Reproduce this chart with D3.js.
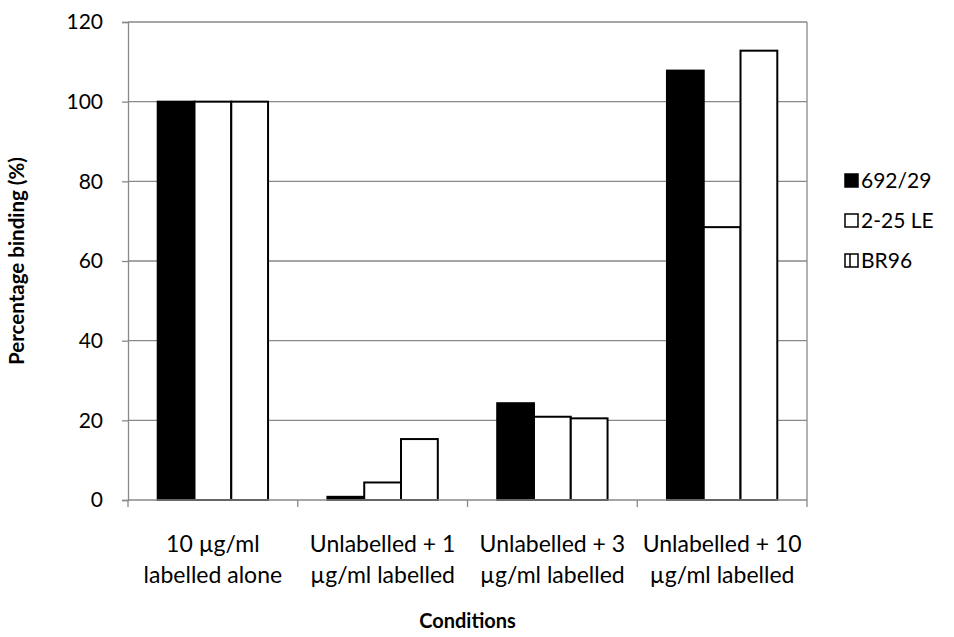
<!DOCTYPE html>
<html>
<head>
<meta charset="utf-8">
<script src="https://cdn.jsdelivr.net/npm/d3@7"></script>
<style>
  body { margin: 0; background: #fff; }
  text { font-family: Lato, "Open Sans", sans-serif; fill: #000; }
</style>
</head>
<body>
<svg width="954" height="637"></svg>
<script>
// chart data
const categories = [
  ["10 µg/ml", "labelled alone"],
  ["Unlabelled + 1", "µg/ml labelled"],
  ["Unlabelled + 3", "µg/ml labelled"],
  ["Unlabelled + 10", "µg/ml labelled"]
];
const seriesNames = ["692/29", "2-25 LE", "BR96"];
const values692 = [100, 0.8, 24.3, 107.8];
const values225 = [100, 4.4, 20.9, 68.5];
const valuesBR96 = [100, 15.3, 20.5, 112.8];
const yTicks = [0, 20, 40, 60, 80, 100, 120];

const svg = d3.select("svg");
const margin = { top: 22, left: 128, right: 147, bottom: 137 };
const width = +svg.attr("width");
const height = +svg.attr("height");
const innerWidth = width - margin.left - margin.right;
const innerHeight = height - margin.top - margin.bottom;

const g = svg.append("g")
  .attr("transform", `translate(${margin.left},${margin.top})`);

// scales: one band per condition, then one sub-band per series
const x0 = d3.scaleBand()
  .domain(d3.range(categories.length))
  .range([0, innerWidth])
  .paddingInner(0.35)
  .paddingOuter(0.175);

const x1 = d3.scaleBand()
  .domain(seriesNames)
  .range([0, x0.bandwidth()]);

const y = d3.scaleLinear().domain([0, 120]).range([innerHeight, 0]);

const gray = "#898989";

// gridlines
g.append("g")
  .selectAll("line")
  .data(yTicks.slice(1))
  .join("line")
  .attr("x1", 0)
  .attr("x2", innerWidth)
  .attr("y1", d => y(d))
  .attr("y2", d => y(d))
  .attr("stroke", gray)
  .attr("stroke-width", 1.3);

// right border of plot area
g.append("line")
  .attr("x1", innerWidth).attr("x2", innerWidth)
  .attr("y1", 0).attr("y2", innerHeight)
  .attr("stroke", gray).attr("stroke-width", 1.3);

// bars
const rows = categories.map((c, i) => ({
  i,
  vals: [values692[i], values225[i], valuesBR96[i]]
}));

const groups = g.selectAll(".grp")
  .data(rows)
  .join("g")
  .attr("transform", d => `translate(${x0(d.i)},0)`);

groups.selectAll("rect")
  .data(d => d.vals.map((v, k) => ({ name: seriesNames[k], v, k })))
  .join("rect")
  .attr("x", d => x1(d.name))
  .attr("y", d => y(d.v))
  .attr("width", x1.bandwidth())
  .attr("height", d => y(0) - y(d.v))
  .attr("fill", d => d.k === 0 ? "#000" : "#fff")
  .attr("stroke", "#000")
  .attr("stroke-width", 2);

// y axis
const yAxis = g.append("g")
  .call(d3.axisLeft(y).tickValues(yTicks).tickSize(6).tickPadding(19));
yAxis.select(".domain").attr("stroke", gray).attr("stroke-width", 1.3);
yAxis.selectAll(".tick line").attr("stroke", gray).attr("stroke-width", 1.3);
yAxis.selectAll(".tick text")
  .style("font-size", "21px")
  .style("font-family", "Lato, 'Open Sans', sans-serif");

// x axis line and category ticks
const xAxisG = g.append("g").attr("transform", `translate(0,${innerHeight})`);
xAxisG.append("line")
  .attr("x1", 0).attr("x2", innerWidth)
  .attr("stroke", gray).attr("stroke-width", 1.3);
const step = x0.step();
xAxisG.selectAll(".xt")
  .data(d3.range(categories.length + 1))
  .join("line")
  .attr("x1", d => d * step)
  .attr("x2", d => d * step)
  .attr("y1", 0).attr("y2", 7)
  .attr("stroke", gray).attr("stroke-width", 1.3);

// category labels, two lines each
[0, 1].forEach(line => {
  xAxisG.selectAll(".cl" + line)
    .data(categories)
    .join("text")
    .attr("class", "cl" + line)
    .attr("text-anchor", "middle")
    .attr("x", (d, i) => x0(i) + x0.bandwidth() / 2)
    .attr("y", line === 0 ? 52 : 83)
    .style("font-size", "23px")
    .text(d => d[line]);
});

// axis titles
g.append("text")
  .attr("x", innerWidth / 2)
  .attr("y", innerHeight + 128)
  .attr("text-anchor", "middle")
  .style("font-size", "20px")
  .style("font-weight", "bold")
  .text("Conditions");

g.append("text")
  .attr("transform", `translate(${-104},${innerHeight / 2}) rotate(-90)`)
  .attr("text-anchor", "middle")
  .style("font-size", "20.5px")
  .style("font-weight", "bold")
  .text("Percentage binding (%)");

// legend
const legend = svg.append("g").attr("transform", "translate(845,181)");
const li = legend.selectAll("g")
  .data(seriesNames)
  .join("g")
  .attr("transform", (d, i) => `translate(0,${i * 40})`);
li.append("rect")
  .attr("x", 0).attr("y", -7)
  .attr("width", 13).attr("height", 13)
  .attr("fill", (d, i) => i === 0 ? "#000" : "#fff")
  .attr("stroke", "#000")
  .attr("stroke-width", 1.5);
li.filter((d, i) => i === 2)
  .append("line")
  .attr("x1", 5).attr("x2", 5)
  .attr("y1", -7).attr("y2", 6)
  .attr("stroke", "#000")
  .attr("stroke-width", 1.5);
li.append("text")
  .attr("x", 16)
  .attr("y", 0)
  .attr("dy", "0.35em")
  .style("font-size", "21px")
  .text(d => d);
</script>
</body>
</html>
